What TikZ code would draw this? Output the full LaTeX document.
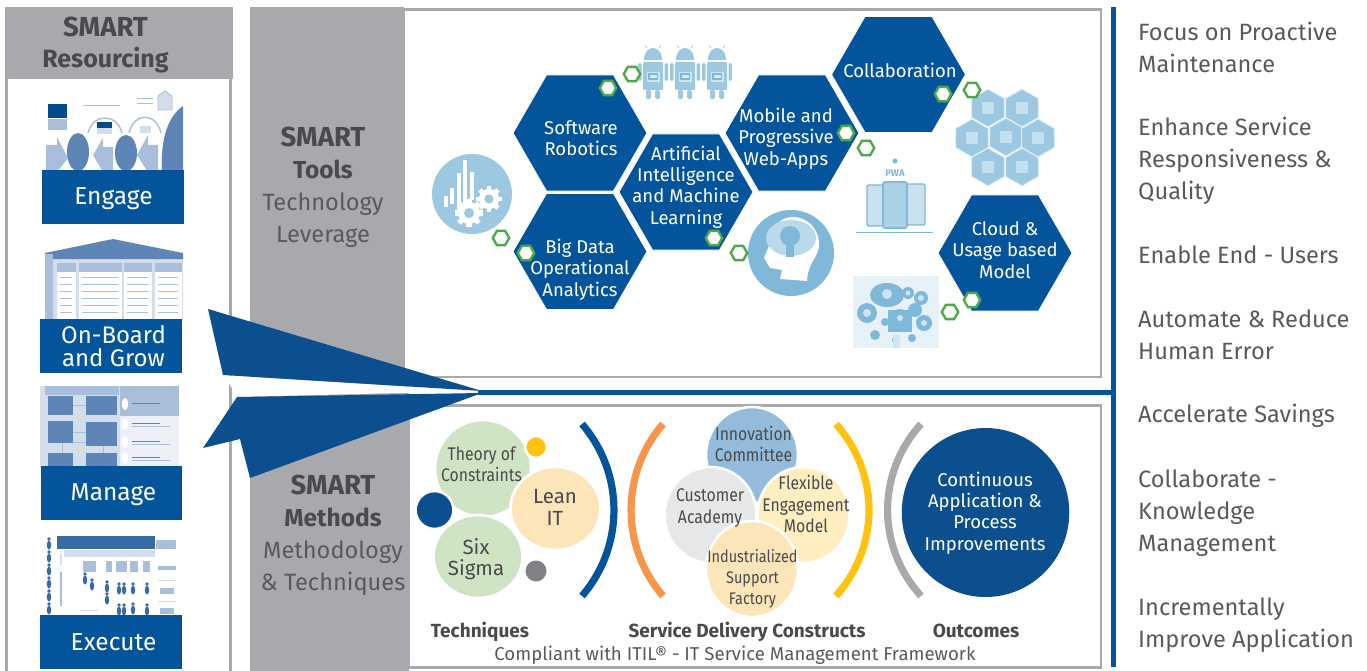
\documentclass[tikz,border=0pt]{standalone}
\usepackage{fontspec}
\setmainfont{Fira Sans}
\newfontfamily\narrowf[FakeStretch=0.86]{Fira Sans}
\usetikzlibrary{shapes.geometric}
\definecolor{bl}{HTML}{04549C}
\definecolor{dbl}{HTML}{0C4F8F}
\definecolor{gr}{HTML}{A7A9AC}
\definecolor{tx}{HTML}{58595B}
\definecolor{dtx}{HTML}{4A4A4C}
\definecolor{gn}{HTML}{4EA84A}
\definecolor{ic}{HTML}{9CC9E1}
\definecolor{ich}{HTML}{7FB8D8}
\definecolor{tm}{HTML}{5F85B7}
\definecolor{tp}{HTML}{A9BEDA}
\definecolor{tq}{HTML}{D3DDEB}
\definecolor{tb}{HTML}{3A6AA5}
\definecolor{cgreen}{RGB}{207,228,196}
\definecolor{ccream}{RGB}{253,229,186}
\definecolor{cyel}{RGB}{255,194,14}
\definecolor{cdot}{RGB}{128,130,133}
\definecolor{corange}{RGB}{247,150,75}
\definecolor{cinno}{RGB}{148,187,220}
\definecolor{ccust}{RGB}{230,231,232}
\definecolor{cflex}{RGB}{255,239,192}
\tikzset{
 x=1pt,y=-1pt,
 hexa/.style={regular polygon,regular polygon sides=6,minimum size=134,inner sep=0,outer sep=0,fill=bl,draw=white,line width=.8},
 hexlab/.style={text=white,align=center,font=\fontsize{18.5}{21.3}\selectfont},
 mini/.style={regular polygon,regular polygon sides=6,minimum size=16.5,inner sep=0,fill=white,draw=gn,line width=2.4},
 boxfill/.style={fill=bl,inner sep=0,minimum width=142,minimum height=54},
 boxlab/.style={text=white,align=center,inner sep=0,font=\fontsize{24.5}{24}\selectfont},
 side/.style={text=tx,align=left,anchor=west,inner sep=0,font=\fontsize{23.6}{32}\selectfont},
 band/.style={text=tx,align=center,inner sep=0,font=\fontsize{23.6}{32}\selectfont},
 bub/.style={ellipse,draw=white,line width=2.6,inner sep=0,minimum width=#1},
 bublab/.style={text=dtx,align=center,inner sep=0,font=\narrowf\fontsize{18.3}{21.2}\selectfont},
 widelab/.style={text=dtx,align=center,inner sep=0,font=\fontsize{20.5}{21.2}\selectfont},
 arcline/.style={line width=7.2},
 foot/.style={text=dtx,inner sep=0,font=\bfseries\fontsize{19}{20}\selectfont},
 droid/.pic={
  \fill[ic] (-9,-16) .. controls (-9,-32) and (9,-32) .. (9,-16) -- cycle;
  \fill[ic,rounded corners=1] (-10,-14) rectangle (10,14);
  \fill[ic,rounded corners=2] (-15,-13) rectangle (-11.5,5);
  \fill[ic,rounded corners=2] (11.5,-13) rectangle (15,5);
  \fill[ic,rounded corners=2] (-7,14) rectangle (-2,23);
  \fill[ic,rounded corners=2] (2,14) rectangle (7,23);
  \draw[ic,line width=.6] (-6,-28) -- (-8,-31) (6,-28) -- (8,-31);
  \fill[white!50!ic] (-6.5,-4) rectangle (6.5,6);
  \fill[ich] (-5,-2.5) rectangle (5,4.5);
  \fill[white!60!ic] (-3.5,-0.5) rectangle (3.5,2);
 },
 gearicon/.pic={
  \foreach \a in {0,45,...,315}{\fill[white,rotate=\a] (-2.6,-1) rectangle (2.6,-14);}
  \fill[white] (0,0) circle (11);
  \fill[ic] (0,0) circle (5);
 },
 person/.pic={
  \fill[tb] (0,-6) circle (1.8);
  \fill[tb] (0,0) ellipse (2.2 and 4.5);
 },
}
\begin{document}
\begin{tikzpicture}
\useasboundingbox (0,0) rectangle (1367,671);
% left panel
\draw[gr,line width=3,fill=white] (6.5,60) rectangle (230.5,680);
\fill[gr] (5,7) rectangle (233,79);
\node[band,font=\bfseries\fontsize{25}{31}\selectfont,text=dtx] (resourcing) at (105.5,45) {{\fontsize{27.5}{31}\selectfont SMART}\\Resourcing};
% grey bands
\fill[gr] (250,7) rectangle (404,400);
\fill[gr] (250,385) rectangle (409,671);
% upper panel
\draw[gr,line width=2.8,fill=white] (404,9.5) rectangle (1101,377);
\draw[gr,line width=2.8,fill=white] (409,405.5) rectangle (1101,667.5);
% white gap of the arrow
\fill[white] (222,375) -- (480,391) -- (237,397) -- (230,385) -- cycle;
% blue rules
\fill[bl] (478,390) rectangle (1116,394.5);
\fill[bl] (1111,7) rectangle (1116,667);
% arrow
\fill[dbl] (208,309) -- (482,391) -- (223,375) -- cycle;
\fill[dbl] (237,397) -- (482,393) -- (250,478) -- (240,439) -- (203,448) -- cycle;
\node[band] (tools) at (323,187.5) {{\bfseries\color{dtx}\fontsize{27.5}{32}\selectfont SMART}\\{\bfseries\color{dtx}\fontsize{24.5}{32}\selectfont Tools}\\Technology\\Leverage};
\node[band] (methods) at (333,535.5) {{\bfseries\color{dtx}\fontsize{27.5}{32}\selectfont SMART}\\{\bfseries\color{dtx}\fontsize{24.5}{32}\selectfont Methods}\\Methodology\\\& Techniques};

% Engage thumbnail
\fill[bl!90!black] (48,104) rectangle (67,118);
\fill[tp] (48,119) rectangle (67,130);
\fill[tp] (46,145) -- (57,145) -- (57,137) -- (68,158) -- (57,172) -- (46,172) -- cycle;
\fill[tm] (78,152) ellipse (11 and 19);
\fill[tp] (93,155) -- (103,138) -- (103,147) -- (113,147) -- (113,172) -- (103,172) -- cycle;
\fill[tm] (126,153) ellipse (11 and 18);
\fill[tp] (137,155) -- (148,135) -- (148,145) -- (158,145) -- (158,172) -- (148,172) -- cycle;
\fill[tm] (162,172) .. controls (160,135) and (170,115) .. (183,106) -- (183,172) -- cycle;
\draw[tp,line width=1.4] (88,133) .. controls (93,113) and (117,113) .. (122,133);
\draw[tp,line width=1.4] (129,133) .. controls (134,112) and (156,112) .. (161,133);
\fill[bl!90!black] (97,122) rectangle (112,128);
\fill[tq] (97,128) rectangle (112,134);
\fill[tq] (140,126) rectangle (151,133);
\draw[tp,line width=.9,fill=tq] (158,96) -- (165,91) -- (172,96) -- (172,110) -- (158,110) -- cycle;
\draw[tp,line width=.9] (83,105) -- (120,105) (137,98) -- (153,98) (137,103) -- (153,103);
\node[boxfill] (engage) at (113,197) {};
\node[boxlab] (engagel) at (113.5,199) {Engage};

% On-board thumbnail
\fill[tq] (45,253) rectangle (183,321);
\fill[tm] (45,253) -- (113,239) -- (183,253) -- (183,259) -- (45,259) -- cycle;
\fill[tp] (45,254) rectangle (53,321);
\foreach \xa/\xb in {57/76,79/122,124/152,155/182}{
  \fill[tp] (\xa,263) rectangle (\xb,272);
  \fill[white] (\xa,272) rectangle (\xb,321);
  \foreach \yy in {277,284,...,318}{\draw[tp,line width=.9] (\xa+3,\yy) -- (\xb-4,\yy);}
}
\node[boxfill] (onboard) at (111,346) {};
\node[boxlab,font=\fontsize{24}{23.5}\selectfont] (onboardl) at (113.5,346) {On-Board\\and Grow};

% Manage thumbnail
\fill[tq] (40,386) rectangle (179,468);
\fill[tp] (45,386) rectangle (119,395);
\fill[tp] (120,386) rectangle (179,416);
\fill[white!60!tq] (120,416) rectangle (179,468);
\foreach \xa/\ya/\xb/\yb in {48/396/73/415,86/396/117/415,48/421/73/443,86/422/117/446,48/453/73/468,86/453/117/468}{
  \fill[tm] (\xa,\ya) rectangle (\xb,\yb);
}
\draw[tp,line width=.9] (73,405) -- (86,405) (73,432) -- (86,432) (73,442) -- (86,442) (62,443) -- (62,453) (103,446) -- (103,453);
\foreach \yy in {404,424,442,458}{
  \fill[white] (125,\yy) ellipse (3 and 6);
  \draw[tm,line width=1] (132,\yy-1) -- (160,\yy-1);
  \draw[tp,line width=.8] (132,\yy+2) -- (170,\yy+2);
}
\node[boxfill,minimum width=141] (manage) at (111.5,493) {};
\node[boxlab] (managel) at (113.5,494.5) {Manage};

% Execute thumbnail
\fill[tb] (57,536) rectangle (155,549);
\fill[tq] (64,550) rectangle (155,557);
\foreach \xa/\xb in {83/96,106/112,116/127,130/138,143/150}{\fill[tp] (\xa,561) rectangle (\xb,572);}
\foreach \yy in {545,558,571,584,597,610}{\pic at (49,\yy) {person};}
\foreach \xx/\yy in {85/580,92/586,107/588,107/600,119/590,124/590,133/590,147/590,119/611,124/611,133/610,147/611}{\pic at (\xx,\yy) {person};}
\fill[tq] (60,553) rectangle (62,565);
\fill[tp] (60,572) rectangle (62,606);
\fill[tp] (156,540) rectangle (176,549);
\draw[tq,line width=1] (158,580) -- (176,580) (158,601) -- (176,601) (80,610) -- (98,610);
\fill[tp] (158,566) rectangle (176,570);
\fill[tp] (160,588) rectangle (174,594);
\fill[tp] (160,608) rectangle (174,614);
\node[boxfill] (execute) at (111,642) {};
\node[boxlab] (executel) at (113.5,642.5) {Execute};

% Icons, tools panel
\fill[ic] (472,194) circle (40);
\foreach \xa/\ya/\yb in {446/196/207,452/188/204,459/173/212,465/160/205,472/172/200}{\fill[white] (\xa-1.6,\ya) rectangle (\xa+1.6,\yb);}
\pic at (469,213) {gearicon};
\pic[scale=.92] at (489,199) {gearicon};
\foreach \xx in {653,685,717}{\pic at (\xx,76) {droid};}
% head icon
\fill[ich] (791,253) circle (43);
\fill[white] (764,258) -- (769,246) .. controls (769,226) and (782,217) .. (793,217) .. controls (808,217) and (820,230) .. (819,246) .. controls (818,258) and (808,262) .. (807,281) -- (780,279) -- (782,270) -- (770,268) -- cycle;
\fill[ic!70!white] (791,238) ellipse (25 and 18);
\fill[ich] (790,236) circle (10);
\fill[ich] (786,244) rectangle (794,257);
% PWA
\fill[ich] (895,161) circle (2.5);
\node[inner sep=0,text=ich,font=\bfseries\fontsize{9.5}{10}\selectfont] (pwa) at (895,173) {PWA};
\draw[ich,fill=ic!55!white,line width=1.4,rounded corners=1.5] (867,185) rectangle (884,226);
\draw[ich,fill=ic!55!white,line width=1.4,rounded corners=1.5] (906,184) rectangle (925,225);
\draw[ich,fill=ic!85!white,line width=1.6,rounded corners=2] (883,182) rectangle (907,228);
\draw[ich,line width=1] (856,232) -- (933,232);
% hex cluster
\foreach \xx/\yy in {988/108,1022/108,972/138,1006/137,1038/138,988/167,1022/167}{
 \node[regular polygon,regular polygon sides=6,shape border rotate=30,minimum size=38,inner sep=0,fill=ic,draw=white!70!ic,line width=1] at (\xx,\yy) {};
 \fill[white!40!ic] (\xx-6,\yy-6) rectangle (\xx+6,\yy+6);
}
% cloud apps
\fill[ic!25!white] (853,276) rectangle (939,348);
\fill[ich] (887,295) ellipse (17 and 12);
\foreach \xx/\yy/\rr in {867/313/10,875/335/5,908/293/6,921/298/7,924/323/8,912/338/4,885/322/4,900/318/9,915/310/7,895/340/3}{\fill[ich] (\xx,\yy) circle (\rr);}
\fill[ich] (888,310) rectangle (912,332);
\foreach \xx/\yy/\rr in {867/313/4,887/294/5,908/293/2.5,921/298/3,924/323/3,900/318/3}{\fill[white!50!ic] (\xx,\yy) circle (\rr);}
\fill[white!50!ic] (893,335) rectangle (900,348);

% hexagons
\node[hexa] (software) at (580,133) {};
\node[hexa] (bigdata) at (580,251.5) {};
\node[hexa] (ai) at (686,192) {};
\node[hexa] (mobile) at (792,133) {};
\node[hexa] (collab) at (898.5,74.5) {};
\node[hexa] (cloud) at (1005,253) {};
\node[hexlab] (softwarel) at (581,138.5) {Software\\Robotics};
\node[hexlab] (bigdatal) at (580,269.5) {Big Data\\Operational\\Analytics};
\node[hexlab] (ail) at (686,187) {Artificial\\Intelligence\\and Machine\\Learning};
\node[hexlab] (mobilel) at (786,138.5) {Mobile and\\Progressive\\Web-Apps};
\node[hexlab] (collabl) at (900,70) {Collaboration};
\node[hexlab] (cloudl) at (1005,250) {Cloud \&\\Usage based\\Model};
\foreach \n/\xx/\yy in {ma/608/88,mb/632/74,mc/501/238,md/526/253,me/714/238,mf/739/253,mg/846/133,mh/866/148,mi/943/94,mj/972/90,mk/972/300,ml/950/312}{
  \node[mini] (\n) at (\xx,\yy) {};
}

% Techniques
\node[bub=96,minimum height=97,fill=cgreen] (toc) at (483,468.5) {};
\node[bub=90,minimum height=83,fill=ccream] (lean) at (555.5,508.5) {};
\node[bub=89,minimum height=83,fill=cgreen] (six) at (478,556.5) {};
\node[bub=38,minimum height=38,fill=dbl] (dot1) at (434.5,510) {};
\node[bub=22,minimum height=22,fill=cyel] (dot2) at (536,447) {};
\node[ellipse,inner sep=0,minimum width=21,minimum height=21,fill=cdot] (dot3) at (536,571) {};
\node[bublab] (tocl) at (481.5,464) {Theory of\\Constraints};
\node[widelab] (leanl) at (555,507.5) {Lean\\IT};
\node[widelab] (sixl) at (476,559.5) {Six\\Sigma};
\draw[bl,arcline] (582,424) .. controls (624.6,473.4) and (624.6,546.6) .. (582,596);
\draw[corange,arcline] (663,424) .. controls (620.4,473.4) and (620.4,546.6) .. (663,596);
\draw[cyel,arcline] (836,424) .. controls (880,473.4) and (880,546.6) .. (836,596);
\draw[gr,arcline] (921,424) .. controls (876.4,473.4) and (876.4,546.6) .. (921,596);

% Constructs
\node[bub=92,minimum height=96,fill=cinno] (inno) at (752,455) {};
\node[bub=92,minimum height=96,fill=ccust] (cust) at (710.5,515) {};
\node[bub=92,minimum height=96,fill=cflex] (flex) at (803.5,515) {};
\node[bub=92,minimum height=96,fill=ccream] (indu) at (752,569) {};
\node[bublab] (innol) at (753.5,444) {Innovation\\Committee};
\node[bublab] (custl) at (710,508) {Customer\\Academy};
\node[bublab] (flexl) at (806,504) {Flexible\\Engagement\\Model};
\node[bublab,font=\narrowf\fontsize{16.8}{21.2}\selectfont] (indul) at (752.5,578.5) {Industrialized\\Support\\Factory};

% Outcomes
\node[ellipse,inner sep=0,minimum width=167.5,minimum height=169,fill=dbl] (out) at (985.5,512.5) {};
\node[hexlab] (outl) at (985,513) {Continuous\\Application \&\\Process\\Improvements};

\node[foot] (f1) at (480,631.5) {Techniques};
\node[foot] (f2) at (747,631.5) {Service Delivery Constructs};
\node[foot] (f3) at (976,631) {Outcomes};
\node[text=tx,inner sep=0,font=\fontsize{18.6}{20}\selectfont] (itil) at (735,655) {Compliant with ITIL® - IT Service Management Framework};

% right column
\node[side] (r1) at (1138,47) {Focus on Proactive\\Maintenance};
\node[side] (r2) at (1138,161) {Enhance Service\\Responsiveness \&\\Quality};
\node[side] (r3) at (1138,255) {Enable End - Users};
\node[side] (r4) at (1138,335) {Automate \& Reduce\\Human Error};
\node[side] (r5) at (1138,416) {Accelerate Savings};
\node[side] (r6) at (1138,513) {Collaborate -\\Knowledge\\Management};
\node[side] (r7) at (1138,625) {Incrementally\\Improve Application};
\end{tikzpicture}
\end{document}
